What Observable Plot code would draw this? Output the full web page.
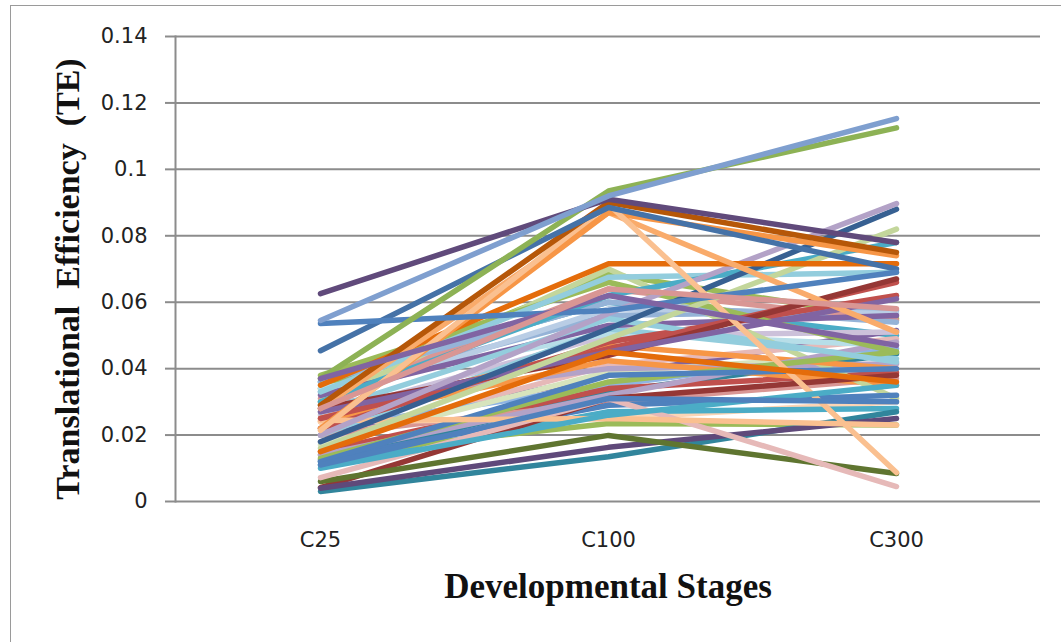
<!DOCTYPE html>
<html>
<head>
<meta charset="utf-8">
<script src="https://cdn.jsdelivr.net/npm/d3@7"></script>
<script src="https://cdn.jsdelivr.net/npm/@observablehq/plot@0.6"></script>
<style>
  html, body { margin: 0; padding: 0; background: #fff; overflow: hidden; }
  #wrap { position: relative; width: 1061px; height: 642px; }
  #border { position: absolute; left: 10px; top: 5px; width: 1100px; height: 700px; border: 1.5px solid #9a9a9a; pointer-events: none; }
</style>
</head>
<body>
<div id="wrap"><div id="border"></div></div>
<script>
const stages = ["C25", "C100", "C300"];
const yTickValues = [0, 0.02, 0.04, 0.06, 0.08, 0.1, 0.12, 0.14];
const yTickLabels = ["0", "0.02", "0.04", "0.06", "0.08", "0.1", "0.12", "0.14"];
const yTitle = "Translational  Efficiency  (TE)";
const xTitle = "Developmental Stages";

const seriesNames = d3.range(1, 61).map(i => "S" + i);
const teC25 = [0.034,0.036,0.033,0.030,0.031,0.020,0.026,0.018,0.034,0.022,
               0.017,0.012,0.029,0.015,0.020,0.024,0.030,0.024,0.011,0.014,
               0.020,0.0125,0.025,0.014,0.036,0.013,0.032,0.022,0.027,0.038,
               0.012,0.0042,0.003,0.004,0.006,0.0072,0.0244,0.025,0.028,0.027,
               0.033,0.030,0.016,0.018,0.020,0.035,0.028,0.022,0.0214,0.029,
               0.0454,0.0536,0.037,0.0626,0.0545,0.010,0.011,0.037,0.028,0.015];
const teC100 = [0.0685,0.060,0.056,0.058,0.064,0.038,0.050,0.041,0.0506,0.035,
                0.039,0.033,0.040,0.034,0.030,0.0424,0.070,0.025,0.027,0.0235,
                0.052,0.029,0.047,0.032,0.060,0.036,0.053,0.048,0.055,0.066,
                0.038,0.031,0.0135,0.0163,0.0199,0.031,0.025,0.046,0.044,0.045,
                0.0675,0.062,0.049,0.052,0.0566,0.0716,0.087,0.087,0.0895,0.090,
                0.0885,0.0575,0.0935,0.091,0.092,0.026,0.031,0.062,0.064,0.045];
const teC300 = [0.055,0.050,0.0575,0.0566,0.0545,0.0515,0.051,0.049,0.047,0.046,
                0.0445,0.0445,0.0415,0.0388,0.037,0.035,0.031,0.030,0.028,0.023,
                0.043,0.032,0.040,0.048,0.054,0.045,0.056,0.062,0.042,0.045,
                0.040,0.038,0.027,0.025,0.0084,0.0045,0.023,0.066,0.067,0.061,
                0.069,0.078,0.082,0.088,0.0897,0.0716,0.051,0.074,0.0087,0.075,
                0.070,0.069,0.1125,0.078,0.1153,0.035,0.030,0.047,0.058,0.036];
const seriesColors = ["#9BBB59","#4BACC6","#95B3D7","#B9CDE5","#D99694","#8064A2","#CCC1DA","#E6B9B8","#B7DEE8","#8EB4E3",
                      "#D7E4BD","#31859C","#B3A2C7","#C0504D","#D99694","#F79646","#C3D69B","#FCD5B5","#4BACC6","#9BBB59",
                      "#93CDDD","#4F81BD","#F79646","#B3A2C7","#95B3D7","#9BBB59","#8064A2","#C0504D","#93CDDD","#9BBB59",
                      "#4F81BD","#953735","#31859C","#5F497A","#5F7530","#E6B9B8","#FAC090","#C0504D","#953735","#8064A2",
                      "#93CDDD","#4BACC6","#C3D69B","#376092","#B3A2C7","#E46C0A","#F9AB6B","#F79646","#FAC090","#B65708",
                      "#4572A7","#4F81BD","#8DB255","#604A7B","#7F9FCF","#4BACC6","#4F81BD","#8064A2","#D99694","#E46C0A"];

const rows = [];
seriesNames.forEach((name, i) => {
  const vals = [teC25[i], teC100[i], teC300[i]];
  stages.forEach((stage, j) => rows.push({series: name, stage, te: vals[j]}));
});

const chart = Plot.plot({
  width: 1061,
  height: 642,
  marginLeft: 175,
  marginRight: 21,
  marginTop: 36,
  marginBottom: 141,
  style: {background: "transparent", fontFamily: "'DejaVu Sans', sans-serif", fontSize: "21px", color: "#222"},
  x: {type: "point", domain: stages, padding: 0.5, label: null},
  y: {domain: [0, 0.14], label: null},
  color: {domain: seriesNames, range: seriesColors},
  marks: [
    Plot.ruleY(yTickValues, {stroke: "#8c8c8c", strokeWidth: 2}),
    Plot.frame({anchor: "left", stroke: "#8c8c8c", strokeWidth: 2}),
    Plot.axisY({ticks: yTickValues, tickFormat: (d, i) => yTickLabels[i], tickSize: 10, tickPadding: 18, stroke: "#8c8c8c", strokeWidth: 2, strokeOpacity: 1, label: null, fill: "#222"}),
    Plot.axisX({tickSize: 0, tickPadding: 31, label: null, fill: "#222"}),
    Plot.lineY(rows, {x: "stage", y: "te", z: "series", stroke: "series", strokeWidth: 5.5, strokeLinecap: "round", strokeLinejoin: "round"}),
    Plot.text([yTitle], {frameAnchor: "left", dx: -107, dy: 10, rotate: -90, textAnchor: "middle", lineAnchor: "middle", fontFamily: "'Liberation Serif', serif", fontWeight: "bold", fontSize: 34, fill: "#111"}),
    Plot.text([xTitle], {frameAnchor: "bottom", dy: 85, textAnchor: "middle", lineAnchor: "middle", fontFamily: "'Liberation Serif', serif", fontWeight: "bold", fontSize: 35, fill: "#111"})
  ]
});
document.getElementById("wrap").appendChild(chart);
chart.style.position = "absolute";
chart.style.left = "0";
chart.style.top = "0";
</script>
</body>
</html>
